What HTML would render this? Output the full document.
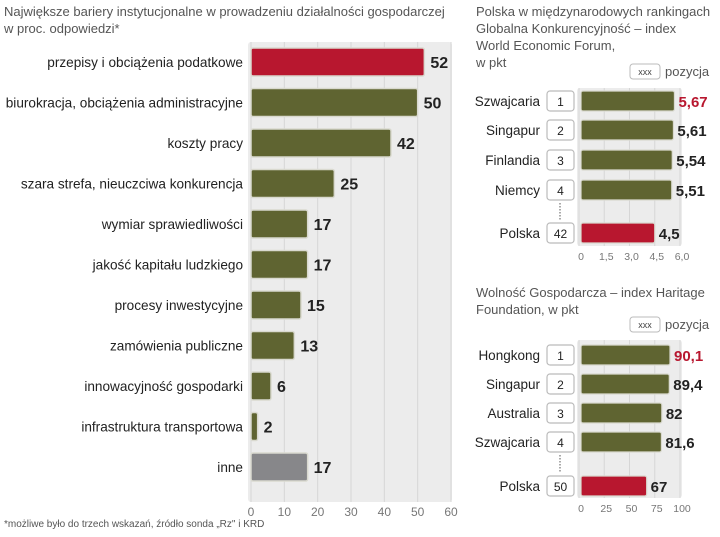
<!DOCTYPE html>
<html><head><meta charset="utf-8"><style>
body{margin:0;background:#fff;width:720px;height:532px;overflow:hidden}
svg{font-family:"Liberation Sans",sans-serif}
</style></head><body>
<svg id="s" width="720" height="532"></svg>
<script>
const leftCats=["przepisy i obciążenia podatkowe","biurokracja, obciążenia administracyjne","koszty pracy","szara strefa, nieuczciwa konkurencja","wymiar sprawiedliwości","jakość kapitału ludzkiego","procesy inwestycyjne","zamówienia publiczne","innowacyjność gospodarki","infrastruktura transportowa","inne"];
const leftVals=[52,50,42,25,17,17,15,13,6,2,17];
const leftTicks=[0,10,20,30,40,50,60];
const wefCats=["Szwajcaria","Singapur","Finlandia","Niemcy","Polska"];
const wefRanks=["1","2","3","4","42"];
const wefVals=[5.67,5.61,5.54,5.51,4.5];
const wefLabels=["5,67","5,61","5,54","5,51","4,5"];
const wefTicks=["0","1,5","3,0","4,5","6,0"];
const herCats=["Hongkong","Singapur","Australia","Szwajcaria","Polska"];
const herRanks=["1","2","3","4","50"];
const herVals=[90.1,89.4,82,81.6,67];
const herLabels=["90,1","89,4","82","81,6","67"];
const herTicks=["0","25","50","75","100"];

const s=document.getElementById('s');
const NS="http://www.w3.org/2000/svg";
function el(t,a,txt){const e=document.createElementNS(NS,t);for(const k in a)e.setAttribute(k,a[k]);if(txt!==undefined)e.textContent=txt;s.appendChild(e);return e;}
const OLIVE="#5f6431",RED="#b8172f",GREY="#87878a";

let t=el('text',{x:4,y:16,'font-size':13,fill:'#555'},'Największe bariery instytucjonalne w prowadzeniu działalności gospodarczej');

t=el('text',{x:4,y:33,'font-size':13,fill:'#555'},'w proc. odpowiedzi*');

t=el('text',{x:4,y:527,'font-size':10,fill:'#555'},'*możliwe było do trzech wskazań, źródło sonda „Rz" i KRD');


const lx=v=>251+v*200/60;
const ly=i=>62+i*40.5;
let r=el('rect',{x:248,y:42,width:204,height:460,fill:'#ececec',rx:3});

leftTicks.forEach(v=>{
  let g=el('line',{x1:lx(v),x2:lx(v),y1:42,y2:502,stroke:'#d6d6d6'});
  
  let tt=el('text',{x:lx(v),y:516,'font-size':12,fill:'#777','text-anchor':'middle'},v);
  
});
leftCats.forEach((c,i)=>{
  const y=ly(i),v=leftVals[i];
  const col=i===0?RED:(i===leftCats.length-1?GREY:OLIVE);
  let b=el('rect',{x:lx(0),y:y-14,width:lx(v)-lx(0),height:28,fill:col,stroke:'#d9d9cf','stroke-width':1.5,rx:2});
  
  let l=el('text',{x:243,y:y+5,'font-size':13.6,fill:'#222','text-anchor':'end'},c);
  
  let vl=el('text',{x:lx(v)+6,y:y+6,'font-size':16,'font-weight':'bold',fill:'#222'},v);
  
});

function rightChart(prefix,title,cats,ranks,vals,labels,ticks,maxV,y0,rowY,pY,plotTop,plotBot,legY){
  title.forEach((ln,k)=>{let tt=el('text',{x:476,y:y0+k*17,'font-size':13,fill:'#555'},ln);
    });
  let lb=el('rect',{x:630,y:legY-11,width:30,height:15,fill:'#fff',stroke:'#bbb',rx:3});
  
  let lt=el('text',{x:645,y:legY,'font-size':9,fill:'#444','text-anchor':'middle'},'xxx');
  
  lt=el('text',{x:665,y:legY+1,'font-size':13,fill:'#555'},'pozycja');
  
  const x0=579,x1=680;const X=v=>x0+v*(x1-x0)/maxV;
  let p=el('rect',{x:577,y:plotTop,width:105,height:plotBot-plotTop,fill:'#ececec',rx:3});
  
  ticks.forEach((tk,k)=>{const x=x0+k*(x1-x0)/(ticks.length-1);
    let g=el('line',{x1:x,x2:x,y1:plotTop,y2:plotBot,stroke:'#d6d6d6'});
    
    let tt=el('text',{x:x+2,y:plotBot+14,'font-size':10.5,fill:'#777','text-anchor':'middle'},tk);
    });
  let d=el('line',{x1:560,x2:560,y1:rowY[3]+13,y2:pY-13,stroke:'#555','stroke-dasharray':'1.5,1.5'});
  
  cats.forEach((c,i)=>{
    const y=i<4?rowY[i]:pY,last=i===cats.length-1;
    let l=el('text',{x:540,y:y+5,'font-size':13.5,fill:'#222','text-anchor':'end'},c);
    
    let rb=el('rect',{x:547,y:y-10,width:27,height:20,fill:'#fff',stroke:'#bbb','stroke-width':1.2,rx:3});
    
    let rt=el('text',{x:560.5,y:y+5,'font-size':12,fill:'#222','text-anchor':'middle'},ranks[i]);
    
    let b=el('rect',{x:X(0)+2,y:y-10,width:X(vals[i])-X(0)-2,height:20,fill:last?RED:OLIVE,stroke:'#d9d9cf','stroke-width':1.2,rx:2});
    
    let vl=el('text',{x:X(vals[i])+4,y:y+6,'font-size':15,'font-weight':'bold',fill:i===0?RED:'#222'},labels[i]);
    
  });
}
rightChart('wef',['Polska w międzynarodowych rankingach','Globalna Konkurencyjność – index','World Economic Forum,','w pkt'],wefCats,wefRanks,wefVals,wefLabels,wefTicks,6,16,[101,130,160,190],233,88,246,75);
rightChart('heritage',['Wolność Gospodarcza – index Haritage','Foundation, w pkt'],herCats,herRanks,herVals,herLabels,herTicks,100,297,[355,384,413,442],486,340,498,328);
</script>
</body></html>
